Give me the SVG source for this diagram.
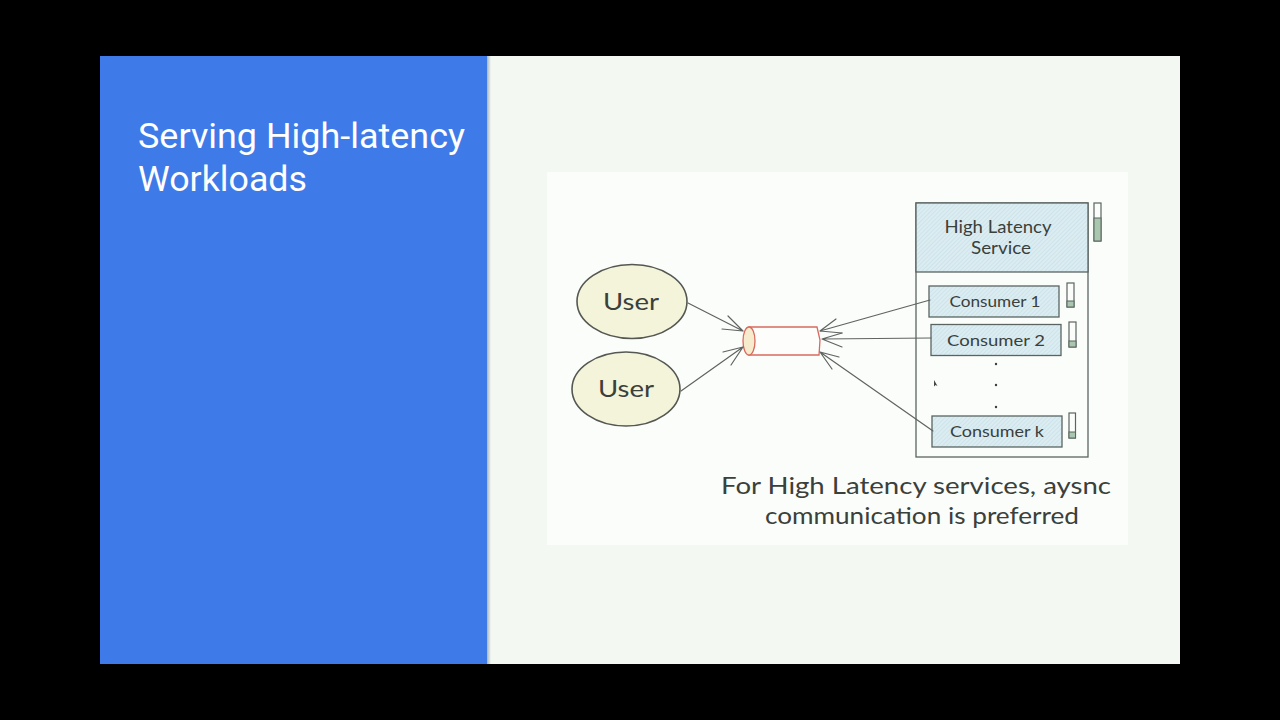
<svg xmlns="http://www.w3.org/2000/svg" width="1280" height="720" viewBox="0 0 1280 720">
<style>
.hand{font-family:"Lato","Noto Sans",sans-serif;fill:#3a403b;text-anchor:middle}
.box{fill:url(#hatch);stroke:#5a6461;stroke-width:1.3}
.bar{fill:#fbfdfb;stroke:#5a6461;stroke-width:1.2}
.lvl{fill:#a9c6ae;stroke:#5a6461;stroke-width:1}
.user{fill:#f4f4da;stroke:#555852;stroke-width:1.6}
.line{fill:none;stroke:#5f6460;stroke-width:1.2;stroke-linecap:round}
</style>
<defs>
<pattern id="hatch" width="3" height="3" patternUnits="userSpaceOnUse" patternTransform="rotate(45)">
<rect width="3" height="3" fill="#dcedf2"/>
<rect width="1" height="3" fill="#cde3ea"/>
</pattern>
<linearGradient id="shade" x1="0" x2="1" y1="0" y2="0">
<stop offset="0" stop-color="#a9b6ba"/><stop offset="1" stop-color="#f3f8f3"/>
</linearGradient>
</defs>
<rect width="1280" height="720" fill="#000"/>
<rect x="100" y="56" width="1080" height="608" fill="#f3f8f3"/>
<rect x="487" y="56" width="4" height="608" fill="url(#shade)"/>
<rect x="100" y="56" width="387" height="608" fill="#3e7ae8"/>
<rect x="547" y="172" width="581" height="373" fill="#fbfdfa"/>
<g font-family="Roboto,sans-serif" font-size="35" fill="#fff" font-weight="400">
<text x="138" y="148" textLength="327" lengthAdjust="spacingAndGlyphs">Serving High-latency</text>
<text x="138" y="191" textLength="169" lengthAdjust="spacingAndGlyphs">Workloads</text>
</g>
<g id="user-1"><ellipse class="user" cx="632" cy="301.5" rx="55" ry="37"/><text class="hand" x="631" y="310" font-size="24" textLength="56" lengthAdjust="spacingAndGlyphs">User</text></g>
<g id="user-2"><ellipse class="user" cx="626" cy="389" rx="54" ry="37"/><text class="hand" x="626" y="397" font-size="24" textLength="56" lengthAdjust="spacingAndGlyphs">User</text></g>
<g id="queue">
<path d="M749 327L817 327L820 340L819 355L749 355Z" fill="#fdfefc" stroke="#d9695f" stroke-width="1.3"/>
<ellipse cx="749" cy="341" rx="6" ry="14" fill="#f6eccd" stroke="#d9695f" stroke-width="1.3"/>
</g>
<g id="service">
<rect x="916" y="203" width="172" height="254" fill="#fbfdfa" stroke="#5a6461" stroke-width="1.3"/>
<rect class="box" x="916" y="203" width="172" height="69"/>
<text class="hand" x="998" y="233" font-size="17" textLength="107" lengthAdjust="spacingAndGlyphs">High Latency</text>
<text class="hand" x="1001" y="254" font-size="17" textLength="60" lengthAdjust="spacingAndGlyphs">Service</text>
<rect class="bar" x="1094" y="203" width="7" height="38"/>
<rect class="lvl" x="1094" y="218" width="7" height="23"/>
</g>
<g id="consumer-1">
<rect class="box" x="929" y="286" width="130" height="31"/>
<text class="hand" x="995" y="307" font-size="15.500" textLength="91" lengthAdjust="spacingAndGlyphs">Consumer 1</text>
<rect class="bar" x="1067" y="283" width="7" height="24"/><rect class="lvl" x="1067" y="301" width="7" height="6"/>
</g>
<g id="consumer-2">
<rect class="box" x="931" y="324.500" width="130" height="31"/>
<text class="hand" x="996" y="346" font-size="15.500" textLength="98" lengthAdjust="spacingAndGlyphs">Consumer 2</text>
<rect class="bar" x="1069" y="322" width="7" height="25"/><rect class="lvl" x="1069" y="341" width="7" height="6"/>
</g>
<g id="dots" fill="#3a3f3b"><circle cx="996" cy="364" r="1.2"/><circle cx="996" cy="385" r="1.2"/><circle cx="996" cy="407" r="1.2"/></g>
<path d="M934 380L934 386.500L935.500 385L937.500 386Z" fill="#444"/>
<g id="consumer-k">
<rect class="box" x="932" y="416" width="130" height="31"/>
<text class="hand" x="997" y="437" font-size="15.500" textLength="94" lengthAdjust="spacingAndGlyphs">Consumer k</text>
<rect class="bar" x="1069" y="413" width="6.500" height="25"/><rect class="lvl" x="1069" y="432" width="6.500" height="6"/>
</g>
<g id="connectors">
<path class="line" d="M688 303L743 331M728 316L743 331M722 329L743 331"/>
<path class="line" d="M681 391L743 347M723 352L743 347M731 365L743 347"/>
<path class="line" d="M930 300L820 331M836 319L820 331M842 333L820 331"/>
<path class="line" d="M931 338L822 339M842 333L822 339M842 347L822 339"/>
<path class="line" d="M933 431L820 352M839 357L820 352M832 369L820 352"/>
</g>
<g id="caption">
<text class="hand" x="916" y="494" font-size="24" textLength="390" lengthAdjust="spacingAndGlyphs">For High Latency services, aysnc</text>
<text class="hand" x="922" y="524" font-size="24" textLength="314" lengthAdjust="spacingAndGlyphs">communication is preferred</text>
</g>
</svg>
